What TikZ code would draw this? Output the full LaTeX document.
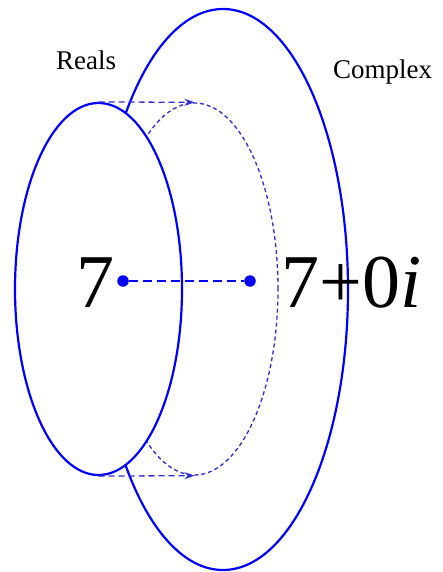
\documentclass[tikz,border=0pt]{standalone}
\usepackage{fontspec}
\setmainfont{Liberation Serif}
\usetikzlibrary{shapes.geometric,arrows.meta}
\definecolor{dashblue}{RGB}{45,45,210}
\begin{document}
\begin{tikzpicture}[x=1pt,y=-1pt,
  solidell/.style={ellipse,draw=blue,line width=2.2pt,fill=white,inner sep=0pt},
  dashell/.style={ellipse,draw=dashblue,line width=1.3pt,dash pattern=on 4pt off 3pt,inner sep=0pt},
  maparrow/.style={draw=dashblue,line width=1.3pt,dash pattern=on 6pt off 4pt,-{Stealth[length=10pt,width=7pt]}},
  dotnode/.style={circle,fill=blue,inner sep=0pt,minimum size=11.5pt},
  linkline/.style={draw=blue,line width=2.2pt,dash pattern=on 9pt off 5pt},
  setlabel/.style={font=\fontsize{27}{30}\selectfont,inner sep=0pt,anchor=base west},
  numlabel/.style={font=\fontsize{76}{80}\selectfont,inner sep=0pt,anchor=base west}]
\useasboundingbox (0,0) rectangle (442,572);
\node[solidell,minimum width=250pt,minimum height=561pt] (cplx) at (223,289.5) {};
\node[dashell,minimum width=167pt,minimum height=372pt] (image) at (194.5,289) {};
\node[solidell,minimum width=167pt,minimum height=372pt] (real) at (98.5,289) {};
\draw[maparrow] (real.north) -- (image.north);
\draw[maparrow] (real.south) -- (image.south);
\node[dotnode] (d1) at (123,281) {};
\node[dotnode] (d2) at (250,281) {};
\draw[linkline] (d1) -- (d2);
\node[numlabel] (seven) at (76,307) {7};
\node[numlabel] (sevenc) at (281,307) {7+0\textit{i}};
\node[setlabel] (lreal) at (56,70) {Reals};
\node[setlabel] (lcplx) at (333,79) {Complex};
\end{tikzpicture}
\end{document}
